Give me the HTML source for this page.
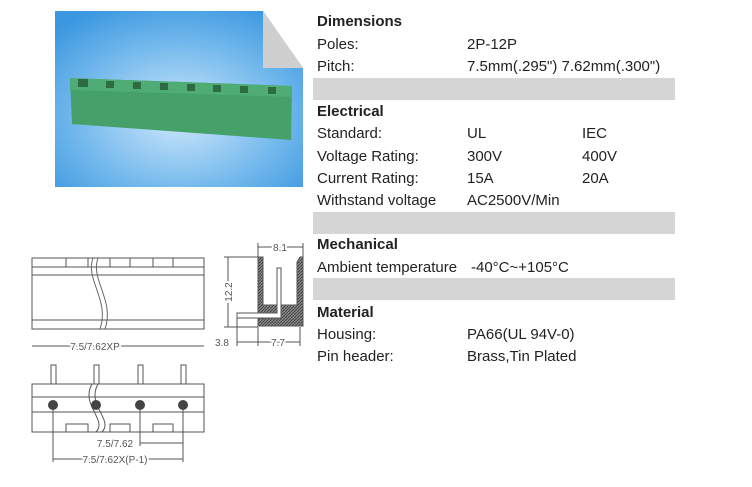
<!DOCTYPE html>
<html><head><meta charset="utf-8"><style>
body{margin:0;width:752px;height:487px;background:#fff;position:relative;overflow:hidden;font-family:"Liberation Sans",sans-serif;color:#222}
.t{position:absolute;font-size:15px;line-height:16px;white-space:nowrap}
.b{font-weight:bold}
.bar{position:absolute;left:313px;width:362px;height:22px;background:#d6d6d6}
</style></head><body>
<svg width="752" height="487" style="position:absolute;left:0;top:0">
<defs>
<radialGradient id="g" cx="0.5" cy="0.6" r="0.7"><stop offset="0" stop-color="#cfe8fb"/><stop offset="0.6" stop-color="#72b8ec"/><stop offset="1" stop-color="#3a97e0"/></radialGradient>
<pattern id="h" width="3" height="3" patternUnits="userSpaceOnUse"><rect width="3" height="3" fill="#888"/><path d="M0 3L3 0" stroke="#444" stroke-width="1"/></pattern>
</defs>
<polygon points="55,11 263,11 303,68 303,187 55,187" fill="url(#g)"/>
<polygon points="263,11 303,68 263,68" fill="#cfcfcf"/>
<polygon points="70,78 292,86 291,140 72,124" fill="#45a06a"/>
<polygon points="70,78 292,86 292,97 70,90" fill="#4fac74"/>
<g fill="#2d6b42">
<rect x="78" y="79" width="10" height="8"/><rect x="106" y="81" width="8" height="7"/><rect x="133" y="82" width="8" height="7"/><rect x="160" y="83" width="8" height="7"/><rect x="187" y="84" width="8" height="7"/><rect x="213" y="85" width="8" height="7"/><rect x="240" y="86" width="8" height="7"/><rect x="268" y="87" width="8" height="7"/>
</g>
<g fill="none" stroke="#555" stroke-width="1">
<rect x="32" y="258" width="172" height="71"/>
<line x1="32" y1="267" x2="204" y2="267"/><line x1="32" y1="275" x2="204" y2="275"/><line x1="32" y1="320" x2="204" y2="320"/>
<rect x="66" y="258" width="22" height="9"/><rect x="110" y="258" width="20" height="9"/><rect x="153" y="258" width="20" height="9"/>
<path d="M93 258 C85 280,110 300,100 329 M98 258 C90 280,115 300,105 329" stroke="#666"/>
<line x1="32" y1="346" x2="204" y2="346"/>
<rect x="32" y="384" width="172" height="48"/>
<line x1="32" y1="397" x2="204" y2="397"/><line x1="32" y1="412" x2="204" y2="412"/>
<rect x="66" y="424" width="22" height="8"/><rect x="110" y="424" width="20" height="8"/><rect x="153" y="424" width="20" height="8"/>
<path d="M92 384 C80 405,108 420,96 432 M98 384 C86 405,114 420,102 432"/>
<rect x="51" y="365" width="5" height="19"/><rect x="94" y="365" width="5" height="19"/><rect x="138" y="365" width="5" height="19"/><rect x="181" y="365" width="5" height="19"/>
<line x1="53" y1="405" x2="53" y2="462"/><line x1="183" y1="405" x2="183" y2="462"/><line x1="140" y1="405" x2="140" y2="446"/>
<line x1="140" y1="443" x2="183" y2="443"/><line x1="53" y1="459" x2="183" y2="459"/>
<line x1="228" y1="257" x2="228" y2="327"/><line x1="224" y1="257" x2="258" y2="257"/><line x1="224" y1="327" x2="258" y2="327"/>
<line x1="258" y1="247" x2="303" y2="247"/><line x1="258" y1="243" x2="258" y2="257"/><line x1="303" y1="243" x2="303" y2="260"/>
<line x1="237" y1="342" x2="300" y2="342"/><line x1="237" y1="318" x2="237" y2="346"/><line x1="258" y1="327" x2="258" y2="346"/><line x1="300" y1="327" x2="300" y2="346"/>
</g>
<g fill="#444"><circle cx="53" cy="405" r="5"/><circle cx="96" cy="405" r="5"/><circle cx="140" cy="405" r="5"/><circle cx="183" cy="405" r="5"/></g>
<path d="M258 257 H263 V305 H277 V300 H281 V305 H297 V262 L300 257 H303 V326 H258 Z" fill="url(#h)" stroke="#555"/>
<path d="M277 268 H281 V318 H237 V313 H277 Z" fill="#fff" stroke="#555"/>
<g font-size="10" fill="#555" font-family="Liberation Sans,sans-serif">
<text x="95" y="350" text-anchor="middle" fill="#555" style="paint-order:stroke" stroke="#fff" stroke-width="4">7.5/7.62XP</text>
<text x="115" y="447" text-anchor="middle" stroke="#fff" stroke-width="4" style="paint-order:stroke">7.5/7.62</text>
<text x="115" y="463" text-anchor="middle" stroke="#fff" stroke-width="4" style="paint-order:stroke">7.5/7.62X(P-1)</text>
<text x="280" y="251" text-anchor="middle" stroke="#fff" stroke-width="4" style="paint-order:stroke">8.1</text>
<text x="222" y="346" text-anchor="middle">3.8</text>
<text x="278" y="346" text-anchor="middle" stroke="#fff" stroke-width="4" style="paint-order:stroke">7.7</text>
<text transform="translate(232,292) rotate(-90)" text-anchor="middle" stroke="#fff" stroke-width="4" style="paint-order:stroke">12.2</text>
</g>
</svg>
<div class="bar" style="top:78px"></div><div class="bar" style="top:212px"></div><div class="bar" style="top:278px"></div>
<div class="t b" style="left:317px;top:14px">Dimensions</div>
<div class="t" style="left:317px;top:37px">Poles:</div><div class="t" style="left:467px;top:37px">2P-12P</div>
<div class="t" style="left:317px;top:59px">Pitch:</div><div class="t" style="left:467px;top:59px">7.5mm(.295") 7.62mm(.300")</div>
<div class="t b" style="left:317px;top:104px">Electrical</div>
<div class="t" style="left:317px;top:126px">Standard:</div><div class="t" style="left:467px;top:126px">UL</div><div class="t" style="left:582px;top:126px">IEC</div>
<div class="t" style="left:317px;top:149px">Voltage Rating:</div><div class="t" style="left:467px;top:149px">300V</div><div class="t" style="left:582px;top:149px">400V</div>
<div class="t" style="left:317px;top:171px">Current Rating:</div><div class="t" style="left:467px;top:171px">15A</div><div class="t" style="left:582px;top:171px">20A</div>
<div class="t" style="left:317px;top:193px">Withstand voltage</div><div class="t" style="left:467px;top:193px">AC2500V/Min</div>
<div class="t b" style="left:317px;top:237px">Mechanical</div>
<div class="t" style="left:317px;top:260px">Ambient temperature</div><div class="t" style="left:471px;top:260px">-40°C~+105°C</div>
<div class="t b" style="left:317px;top:305px">Material</div>
<div class="t" style="left:317px;top:327px">Housing:</div><div class="t" style="left:467px;top:327px">PA66(UL 94V-0)</div>
<div class="t" style="left:317px;top:349px">Pin header:</div><div class="t" style="left:467px;top:349px">Brass,Tin Plated</div>
</body></html>
